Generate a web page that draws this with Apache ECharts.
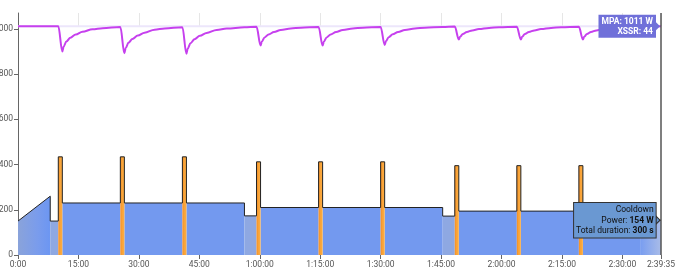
<!DOCTYPE html>
<html>
<head>
<meta charset="utf-8">
<script src="https://cdn.jsdelivr.net/npm/echarts@6/dist/echarts.min.js"></script>
<style>
html,body{margin:0;padding:0;background:#fff;}
#chart{width:690px;height:274px;}
</style>
</head>
<body>
<div id="chart"></div>
<script>
// ---- data ----
const xMaxSeconds = 9575;
const xTickSeconds = [0, 900, 1800, 2700, 3600, 4500, 5400, 6300, 7200, 8100, 9000, 9575];
const yTickWatts = [0, 200, 400, 600, 800, 1000];
const yMaxWatts = 1070;

// [kind, start s, end s, power at start W, power at end W]
const segments = [
  ['Warmup', 0, 480, 150, 260],
  ['Recovery', 480, 600, 150, 150],
  ['Work', 600, 660, 434, 434],
  ['Rest', 660, 1524, 230, 230],
  ['Work', 1524, 1584, 434, 434],
  ['Rest', 1584, 2448, 230, 230],
  ['Work', 2448, 2508, 434, 434],
  ['Rest', 2508, 3372, 230, 230],
  ['Recovery', 3372, 3552, 173, 173],
  ['Work', 3552, 3612, 412, 412],
  ['Rest', 3612, 4476, 210, 210],
  ['Work', 4476, 4536, 412, 412],
  ['Rest', 4536, 5400, 210, 210],
  ['Work', 5400, 5460, 412, 412],
  ['Rest', 5460, 6324, 210, 210],
  ['Recovery', 6324, 6504, 172, 172],
  ['Work', 6504, 6564, 395, 395],
  ['Rest', 6564, 7428, 194, 194],
  ['Work', 7428, 7488, 395, 395],
  ['Rest', 7488, 8352, 194, 194],
  ['Work', 8352, 8412, 395, 395],
  ['Rest', 8412, 9275, 194, 194],
  ['Cooldown', 9275, 9575, 154, 154]
];

// MPA curve [s, W]
const mpaBaseline = 1011;
const mpaPoints = [
  [0,1011],[600,1011],[660,900],[680,922],[720,944],[780,961],[860,975],[960,987],[1110,998],[1260,1003],[1524,1008],
  [1584,892],[1604,915],[1644,938],[1704,955],[1784,970],[1884,983],[2034,996],[2184,1002],[2448,1007],
  [2508,890],[2528,913],[2568,936],[2628,954],[2708,969],[2808,982],[2958,995],[3108,1001],[3372,1007],[3552,1009],
  [3612,926],[3632,944],[3672,962],[3732,975],[3812,986],[3912,995],[4062,1002],[4212,1005],[4476,1008],
  [4536,926],[4556,944],[4596,962],[4656,975],[4736,986],[4836,995],[4986,1002],[5136,1005],[5400,1008],
  [5460,929],[5480,946],[5520,963],[5580,976],[5660,986],[5760,995],[5910,1002],[6060,1005],[6324,1008],[6504,1010],
  [6564,953],[6584,965],[6624,977],[6684,986],[6764,993],[6864,999],[7014,1004],[7164,1007],[7428,1009],
  [7488,953],[7508,965],[7548,977],[7608,986],[7688,993],[7788,999],[7938,1004],[8088,1007],[8352,1009],
  [8412,953],[8432,965],[8472,977],[8532,986],[8612,993],[8712,999],[8862,1004],[9012,1007],[9275,1009],[9575,1011]
];
const xssrValue = 44;

// ---- chart ----
const FONT = 'Roboto';
function fmtTime(s) {
  s = Math.round(s);
  const h = Math.floor(s / 3600), m = Math.floor((s % 3600) / 60), sec = s % 60;
  const pad = v => (v < 10 ? '0' : '') + v;
  return h > 0 ? h + ':' + pad(m) + ':' + pad(sec) : m + ':' + pad(sec);
}

const kindFill = {
  Warmup: () => new echarts.graphic.LinearGradient(0, 0, 1, 0, [
    {offset: 0, color: '#8aa3da'}, {offset: 0.6, color: '#7a9cec'}, {offset: 1, color: '#6c96f2'}]),
  Recovery: () => '#8ea8e2',
  Rest: () => '#7399ef',
  Work: () => new echarts.graphic.LinearGradient(0, 0, 1, 0, [
    {offset: 0, color: '#f58c22'}, {offset: 0.4, color: '#f9a236'}, {offset: 1, color: '#fbae45'}]),
  Cooldown: () => new echarts.graphic.LinearGradient(0, 0, 1, 0, [
    {offset: 0, color: '#7a9ef0'}, {offset: 1, color: '#a9bce8'}])
};

const outline = [];
segments.forEach(s => { outline.push([s[1], s[3]]); outline.push([s[2], s[4]]); });

const cool = segments[segments.length - 1];
const lastMpa = mpaPoints[mpaPoints.length - 1];

const chart = echarts.init(document.getElementById('chart'), null, {renderer: 'canvas'});
chart.setOption({
  animation: false,
  textStyle: {fontFamily: FONT},
  grid: [
    {left: 18, right: 29, top: 13, bottom: 19, outerBoundsMode: 'none', containLabel: false},
    {left: 18, right: 29, top: 13, height: 13, outerBoundsMode: 'none', containLabel: false}
  ],
  xAxis: [{
    type: 'value', min: 0, max: xMaxSeconds, interval: 900, gridIndex: 0,
    axisLine: {show: false},
    axisTick: {show: true, length: 4, lineStyle: {color: '#666'}, customValues: xTickSeconds},
    axisLabel: {color: '#555', fontSize: 8.5, fontFamily: FONT, margin: 5, formatter: v => fmtTime(v), customValues: xTickSeconds},
    splitLine: {show: false}
  }, {
    type: 'value', min: 0, max: xMaxSeconds, interval: 900, gridIndex: 1,
    axisLine: {show: false}, axisTick: {show: false}, axisLabel: {show: false},
    splitLine: {show: true, lineStyle: {color: '#e6e6e6', width: 1}}
  }],
  yAxis: [{
    type: 'value', min: 0, max: yMaxWatts, gridIndex: 0,
    axisLine: {show: true, lineStyle: {color: '#666', width: 1}},
    axisTick: {show: true, length: 4, lineStyle: {color: '#666'}, customValues: yTickWatts},
    axisLabel: {color: '#555', fontSize: 8.5, fontFamily: FONT, margin: 5, formatter: v => String(v), customValues: yTickWatts},
    splitLine: {show: false}
  }, {
    type: 'value', min: 0, max: 1, gridIndex: 1, show: false
  }],
  series: [
    {
      type: 'line', xAxisIndex: 1, yAxisIndex: 1, data: [], silent: true
    },
    {
      name: 'segments', type: 'custom', z: 1, silent: true,
      data: segments.map(s => [s[1], s[2], s[3], s[4], s[0]]),
      encode: {x: [0, 1], y: [2, 3]},
      renderItem: (params, api) => {
        const s = segments[params.dataIndex];
        const p0 = api.coord([s[1], 0]);
        const p1 = api.coord([s[1], s[3]]);
        const p2 = api.coord([s[2], s[4]]);
        const p3 = api.coord([s[2], 0]);
        return {
          type: 'polygon',
          z2: s[0] === 'Work' ? 5 : 1,
          shape: {points: [p0, p1, p2, p3]},
          style: {fill: kindFill[s[0]](), stroke: null}
        };
      }
    },
    {
      name: 'outline', type: 'line', z: 3, silent: true,
      data: outline, symbol: 'none',
      lineStyle: {color: '#222', width: 1}
    },
    {
      name: 'mpaBase', type: 'line', z: 3, silent: true,
      data: [[0, mpaBaseline], [xMaxSeconds, mpaBaseline]], symbol: 'none',
      lineStyle: {color: '#ece6fb', width: 2}
    },
    {
      name: 'MPA', type: 'line', z: 4, silent: true,
      data: mpaPoints, symbol: 'none', smooth: 0.35, smoothMonotone: 'x',
      lineStyle: {color: '#c640ee', width: 2}
    },
    {
      name: 'hover', type: 'line', z: 10, silent: true, data: [],
      markLine: {
        silent: true, symbol: ['none', 'none'],
        label: {show: false},
        lineStyle: {color: '#555', width: 1.5, type: 'solid'},
        data: [{xAxis: xMaxSeconds}]
      },
      markPoint: {
        silent: true,
        data: [
          {
            coord: [lastMpa[0], lastMpa[1]],
            symbol: 'path://M0,0L6,6L0,12Z', symbolSize: [4, 8], symbolOffset: [-3, 0],
            itemStyle: {color: '#7070d9'},
            label: {
              show: true, position: 'left', distance: 0,
              backgroundColor: '#7070d9', padding: [2, 3, 1, 3],
              align: 'right',
              formatter: '{b|MPA: ' + lastMpa[1] + ' W}\n{b|XSSR: ' + xssrValue + '}',
              rich: {b: {color: '#fff', fontWeight: 'bold', fontSize: 8.5, fontFamily: FONT, lineHeight: 10, align: 'right'}}
            }
          },
          {
            coord: [xMaxSeconds, cool[3]],
            symbol: 'path://M0,0L6,6L0,12Z', symbolSize: [4, 8], symbolOffset: [-3, 0],
            itemStyle: {color: '#6a98d2', borderColor: '#333', borderWidth: 1},
            label: {
              show: true, position: 'left', distance: 0,
              backgroundColor: '#6a98d2', borderColor: '#333', borderWidth: 1,
              padding: [2, 2, 1, 2], align: 'right',
              formatter: '{n|' + cool[0] + '}\n{n|Power: }{b|' + cool[3] + ' W}\n{n|Total duration: }{b|' + (cool[2] - cool[1]) + ' s}',
              rich: {
                n: {color: '#111', fontSize: 8.5, fontFamily: FONT, lineHeight: 10.5, align: 'right'},
                b: {color: '#111', fontSize: 8.5, fontFamily: FONT, fontWeight: 'bold', lineHeight: 10.5, align: 'right'}
              }
            }
          }
        ]
      }
    }
  ]
});
</script>
</body>
</html>
